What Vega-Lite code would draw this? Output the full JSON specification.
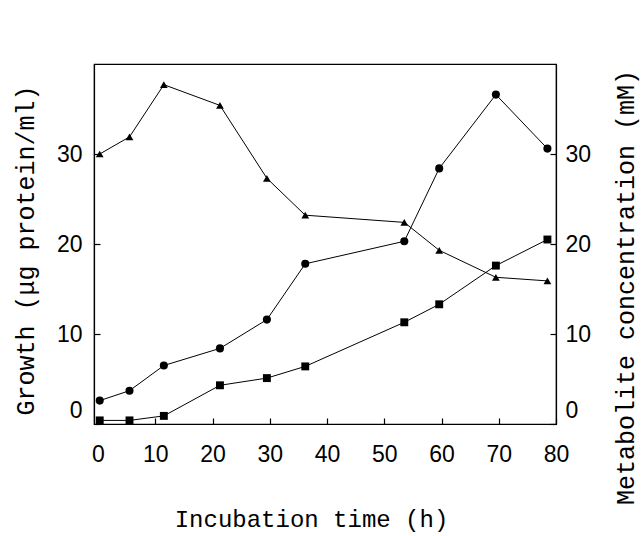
{
  "$schema": "https://vega.github.io/schema/vega-lite/v6.json",
  "width": 462,
  "height": 360,
  "autosize": {"type": "none"},
  "padding": {"left": 94, "top": 64, "right": 86, "bottom": 112},
  "background": "white",
  "config": {
    "view": {"stroke": "black", "strokeWidth": 1.2},
    "axis": {
      "grid": false,
      "domainColor": "black",
      "domainWidth": 1.2,
      "tickColor": "black",
      "tickWidth": 1.2,
      "tickSize": -6,
      "labelColor": "black",
      "titleColor": "black",
      "labelFont": "Liberation Sans",
      "labelFontSize": 23,
      "titleFont": "Liberation Mono",
      "titleFontSize": 25,
      "titleFontWeight": "normal"
    }
  },
  "data": {
    "values": [
      {"t": 0.3, "value": 30.0, "series": "triangles"},
      {"t": 5.5, "value": 31.9, "series": "triangles"},
      {"t": 11.5, "value": 37.7, "series": "triangles"},
      {"t": 21.3, "value": 35.4, "series": "triangles"},
      {"t": 29.5, "value": 27.3, "series": "triangles"},
      {"t": 36.2, "value": 23.2, "series": "triangles"},
      {"t": 53.5, "value": 22.4, "series": "triangles"},
      {"t": 59.6, "value": 19.3, "series": "triangles"},
      {"t": 69.5, "value": 16.3, "series": "triangles"},
      {"t": 78.5, "value": 15.9, "series": "triangles"},
      {"t": 0.3, "value": 2.6, "series": "circles"},
      {"t": 5.5, "value": 3.7, "series": "circles"},
      {"t": 11.5, "value": 6.5, "series": "circles"},
      {"t": 21.3, "value": 8.4, "series": "circles"},
      {"t": 29.5, "value": 11.6, "series": "circles"},
      {"t": 36.2, "value": 17.8, "series": "circles"},
      {"t": 53.5, "value": 20.3, "series": "circles"},
      {"t": 59.6, "value": 28.4, "series": "circles"},
      {"t": 69.5, "value": 36.6, "series": "circles"},
      {"t": 78.5, "value": 30.6, "series": "circles"},
      {"t": 0.3, "value": 0.4, "series": "squares"},
      {"t": 5.5, "value": 0.4, "series": "squares"},
      {"t": 11.5, "value": 0.9, "series": "squares"},
      {"t": 21.3, "value": 4.3, "series": "squares"},
      {"t": 29.5, "value": 5.1, "series": "squares"},
      {"t": 36.2, "value": 6.4, "series": "squares"},
      {"t": 53.5, "value": 11.3, "series": "squares"},
      {"t": 59.6, "value": 13.3, "series": "squares"},
      {"t": 69.5, "value": 17.6, "series": "squares"},
      {"t": 78.5, "value": 20.5, "series": "squares"}
    ]
  },
  "layer": [
    {
      "mark": {"type": "line", "color": "black", "strokeWidth": 1},
      "encoding": {
        "x": {
          "field": "t", "type": "quantitative",
          "scale": {"domain": [-0.7, 80], "nice": false, "zero": false},
          "axis": {
            "values": [0, 10, 20, 30, 40, 50, 60, 70, 80],
            "title": "Incubation time (h)",
            "labelFlush": false,
            "labelPadding": 25,
            "titleX": 217,
            "titleY": 95,
            "titleFontSize": 24,
            "titleBaseline": "middle"
          }
        },
        "y": {
          "field": "value", "type": "quantitative",
          "scale": {"domain": [0, 40], "nice": false},
          "axis": {
            "orient": "left",
            "values": [0, 10, 20, 30],
            "title": "Growth (μg protein/ml)",
            "labelFlush": true,
            "labelFlushOffset": -2,
            "labelPadding": 18,
            "titleX": -69,
            "titleY": 186,
            "titleBaseline": "middle"
          }
        },
        "detail": {"field": "series"}
      }
    },
    {
      "mark": {"type": "point", "filled": true, "color": "black", "opacity": 1},
      "encoding": {
        "x": {"field": "t", "type": "quantitative"},
        "y": {
          "field": "value", "type": "quantitative",
          "axis": {
            "orient": "right",
            "values": [0, 10, 20, 30],
            "title": "Metabolite concentration (mM)",
            "titleAngle": 270,
            "titleFontSize": 25,
            "labelFlush": true,
            "labelFlushOffset": -2,
            "labelPadding": 15,
            "titleX": 69,
            "titleY": 223,
            "titleBaseline": "middle"
          }
        },
        "shape": {
          "field": "series",
          "scale": {"domain": ["circles", "squares", "triangles"], "range": ["circle", "square", "triangle-up"]},
          "legend": null
        },
        "size": {
          "field": "series",
          "scale": {"domain": ["circles", "squares", "triangles"], "range": [65, 60, 115]},
          "legend": null
        }
      }
    }
  ],
  "resolve": {"axis": {"y": "independent"}}
}
